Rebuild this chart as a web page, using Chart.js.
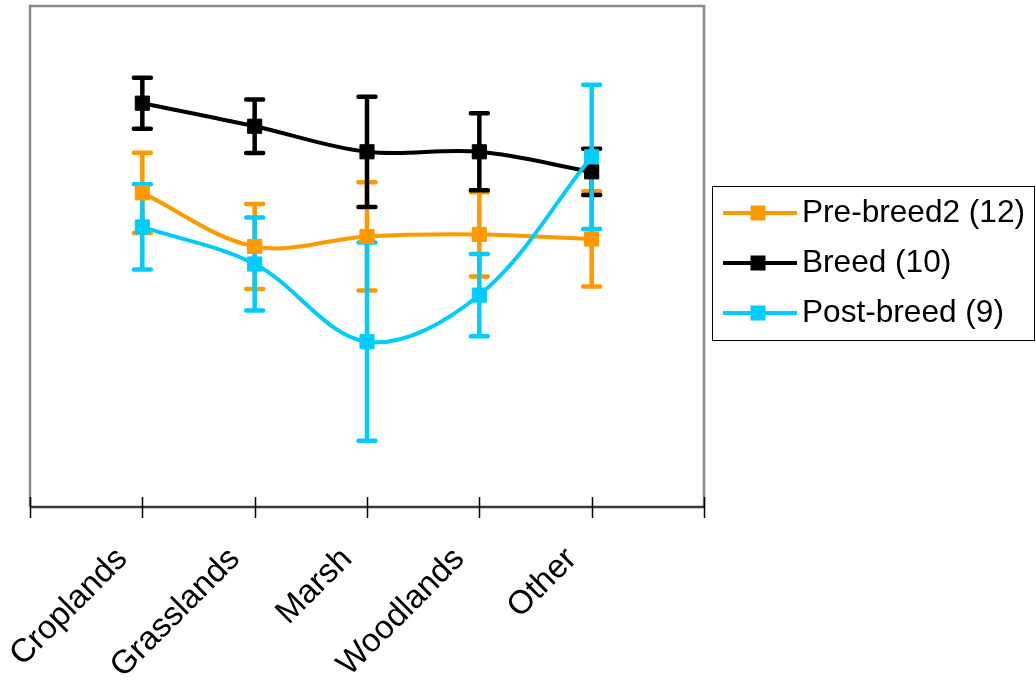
<!DOCTYPE html>
<html>
<head>
<meta charset="utf-8">
<script src="https://cdn.jsdelivr.net/npm/chart.js@4.4.1/dist/chart.umd.min.js"></script>
<style>
  html, body { margin: 0; padding: 0; background: #ffffff; }
  #wrap { width: 1036px; height: 683px; position: relative; }
</style>
</head>
<body>
<div id="wrap"><canvas id="chart" width="1036" height="683"></canvas></div>
<script>
// ---- data (y axis is unlabelled, arbitrary units) ----
const categories = ['Croplands', 'Grasslands', 'Marsh', 'Woodlands', 'Other'];
const seriesNames = ['Pre-breed2 (12)', 'Breed (10)', 'Post-breed (9)'];
const preBreed2 = [62.7, 52.0, 54.0, 54.4, 53.5];
const preBreed2Err = [8.0, 8.5, 10.8, 8.4, 9.5];
const breed = [80.6, 76.0, 70.9, 70.9, 66.9];
const breedErr = [5.1, 5.35, 11.0, 7.7, 4.6];
const postBreed = [55.9, 48.5, 33.0, 42.3, 69.9];
const postBreedErr = [8.5, 9.3, 19.8, 8.2, 14.4];
const seriesColors = ['#FF9900', '#000000', '#00CCFF'];

const FONT = '"Liberation Sans", Arial, Helvetica, sans-serif';
Chart.defaults.font.family = FONT;

function toPoints(vals) {
  return vals.map((v, i) => ({ x: i + 1, y: v }));
}
const seriesValues = [preBreed2, breed, postBreed];
const seriesErrors = [preBreed2Err, breedErr, postBreedErr];

const datasets = seriesValues.map((vals, k) => ({
  label: seriesNames[k],
  data: toPoints(vals),
  errors: seriesErrors[k],
  borderColor: seriesColors[k],
  backgroundColor: seriesColors[k],
  pointBackgroundColor: seriesColors[k],
  pointBorderColor: seriesColors[k],
  borderWidth: 4,
  pointStyle: 'rect',
  pointRadius: 10,
  pointHoverRadius: 10,
  pointBorderWidth: 1,
  tension: 0.35,
  fill: false,
  order: 3 - k
}));

// frame, axis line and tick marks
const framePlugin = {
  id: 'frame',
  beforeDatasetsDraw(chart) {
    const { ctx, chartArea: a, scales } = chart;
    const xs = scales.x;
    ctx.save();
    ctx.strokeStyle = '#8a8a8a';
    ctx.lineWidth = 2.5;
    ctx.beginPath();
    ctx.moveTo(a.left, a.bottom);
    ctx.lineTo(a.left, a.top);
    ctx.lineTo(a.right, a.top);
    ctx.lineTo(a.right, a.bottom);
    ctx.stroke();
    ctx.strokeStyle = '#3a3a3a';
    ctx.lineWidth = 2.5;
    ctx.beginPath();
    ctx.moveTo(a.left, a.bottom);
    ctx.lineTo(a.right, a.bottom);
    ctx.stroke();
    ctx.strokeStyle = '#000000';
    ctx.lineWidth = 1.5;
    xs.ticks.forEach(t => {
      const px = Math.round(xs.getPixelForValue(t.value)) + 0.5;
      ctx.beginPath();
      ctx.moveTo(px, a.bottom - 10);
      ctx.lineTo(px, a.bottom + 11);
      ctx.stroke();
    });
    ctx.restore();
  }
};

// error bars, drawn beneath all series lines and markers
const errorBarPlugin = {
  id: 'errorBars',
  beforeDatasetsDraw(chart) {
    const { ctx, scales } = chart;
    const xs = scales.x, ys = scales.y;
    ctx.save();
    ctx.lineCap = 'round';
    ctx.lineWidth = 4.5;
    chart.data.datasets.forEach(ds => {
      ctx.strokeStyle = ds.borderColor;
      ds.data.forEach((p, j) => {
        const e = ds.errors[j];
        const x = xs.getPixelForValue(p.x);
        const yt = ys.getPixelForValue(p.y + e);
        const yb = ys.getPixelForValue(p.y - e);
        ctx.beginPath();
        ctx.moveTo(x, yt); ctx.lineTo(x, yb);
        ctx.moveTo(x - 8.5, yt); ctx.lineTo(x + 8.5, yt);
        ctx.moveTo(x - 8.5, yb); ctx.lineTo(x + 8.5, yb);
        ctx.stroke();
      });
    });
    ctx.restore();
  }
};

// boxed legend at the right
const boxLegendPlugin = {
  id: 'boxLegend',
  afterDraw(chart) {
    const { ctx } = chart;
    const left = 712, top = 186, w = 322, h = 154;
    ctx.save();
    ctx.strokeStyle = '#000000';
    ctx.lineWidth = 1;
    ctx.strokeRect(left + 0.5, top + 0.5, w, h);
    chart.data.datasets.forEach((ds, k) => {
      const y = 213 + k * 50;
      ctx.strokeStyle = ds.borderColor;
      ctx.fillStyle = ds.borderColor;
      ctx.lineWidth = 4;
      ctx.lineCap = 'butt';
      ctx.beginPath();
      ctx.moveTo(723, y); ctx.lineTo(797, y);
      ctx.stroke();
      ctx.fillRect(758 - 7.5, y - 7.5, 15, 15);
      ctx.fillStyle = '#000000';
      ctx.font = '31.6px ' + FONT;
      ctx.textAlign = 'left';
      ctx.textBaseline = 'alphabetic';
      ctx.fillText(ds.label, 802, y + 9);
    });
    ctx.restore();
  }
};

new Chart(document.getElementById('chart'), {
  type: 'line',
  data: { datasets },
  options: {
    responsive: false,
    devicePixelRatio: 1,
    animation: false,
    layout: { autoPadding: false, padding: { left: 30, top: 6, right: 332, bottom: 0 } },
    plugins: { legend: { display: false }, tooltip: { enabled: false } },
    scales: {
      x: {
        type: 'linear',
        min: 0,
        max: 6,
        grid: { display: false, drawTicks: false },
        border: { display: false },
        ticks: {
          stepSize: 1,
          autoSkip: false,
          minRotation: 45,
          maxRotation: 45,
          labelOffset: -20,
          padding: 33,
          color: '#000000',
          font: { size: 33, family: FONT },
          callback: v => categories[v - 1] || ''
        },
        afterFit: s => {
          s.height = 176;
          s.paddingLeft = 0;
          s.paddingRight = 0;
        }
      },
      y: {
        type: 'linear',
        min: 0,
        max: 100,
        display: false
      }
    }
  },
  plugins: [framePlugin, errorBarPlugin, boxLegendPlugin]
});
</script>
</body>
</html>
